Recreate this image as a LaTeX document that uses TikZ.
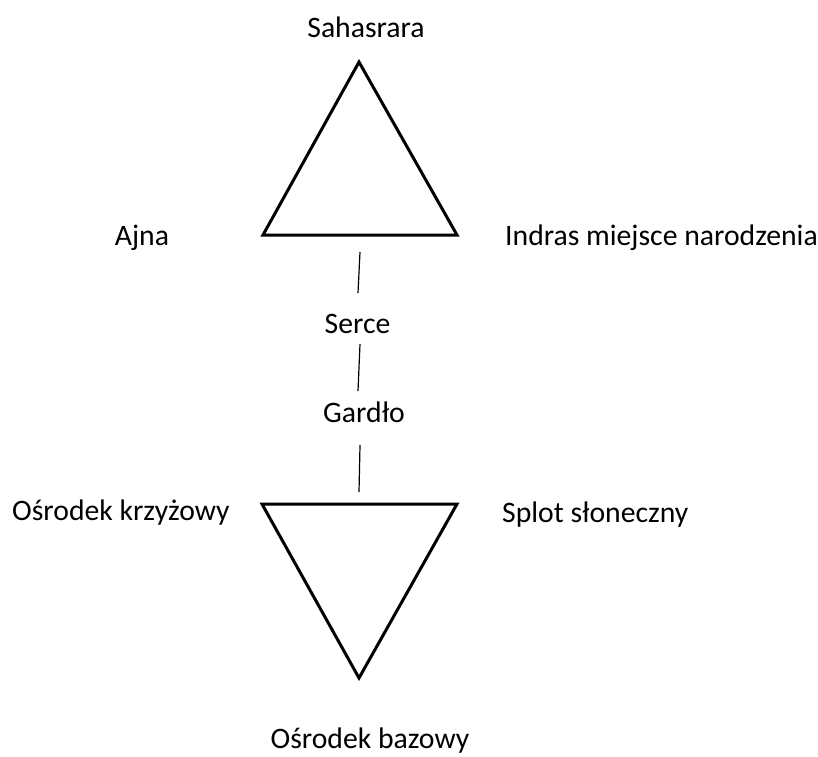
\documentclass[tikz,border=0pt]{standalone}
\usepackage{fontspec}
\setmainfont{Carlito}
\begin{document}
\begin{tikzpicture}[x=1pt,y=-1pt,
  lbl/.style={font=\fontsize{29.7}{32}\selectfont, inner sep=0pt, anchor=base},
  tri/.style={draw=black, line width=3pt, line join=miter},
  conn/.style={draw=black, line width=1.2pt}]
\useasboundingbox (0,0) rectangle (818,756);
% labels
\node[lbl] (sah) at (366,37) {Sahasrara};
\node[lbl] (ajna) at (142,245) {Ajna};
\node[lbl, anchor=base west] (indra) at (505,245) {Indras miejsce narodzenia};
\node[lbl] (serce) at (357.5,333) {Serce};
\node[lbl] (gardlo) at (364,422) {Gardło};
\node[lbl, anchor=base west] (krzyz) at (12,520) {Ośrodek krzyżowy};
\node[lbl, anchor=base west] (splot) at (502,522) {Splot słoneczny};
\node[lbl] (baza) at (370,748) {Ośrodek bazowy};
% upper triangle
\coordinate (ua) at (359,62);
\coordinate (ul) at (263,235);
\coordinate (ur) at (457,235);
\draw[tri] (ua) -- (ul) -- (ur) -- cycle;
% lower triangle
\coordinate (ll) at (262,504);
\coordinate (lr) at (457,504);
\coordinate (lb) at (359,678);
\draw[tri] (ll) -- (lr) -- (lb) -- cycle;
% connector segments
\coordinate (c1a) at (360,252);
\coordinate (c1b) at (358,293);
\coordinate (c2a) at (360,344);
\coordinate (c2b) at (358,391);
\coordinate (c3a) at (360,445);
\coordinate (c3b) at (359,492);
\draw[conn] (c1a) -- (c1b);
\draw[conn] (c2a) -- (c2b);
\draw[conn] (c3a) -- (c3b);
\end{tikzpicture}
\end{document}
